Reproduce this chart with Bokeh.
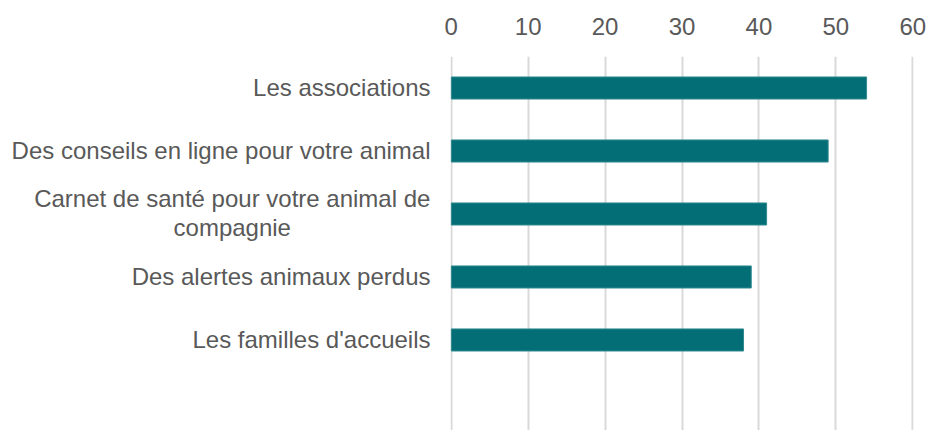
from bokeh.plotting import figure
from bokeh.models import ColumnDataSource, Range1d, FixedTicker
from bokeh.core.properties import value
from bokeh.embed import file_html
from bokeh.resources import INLINE

categories = [
    "Les associations",
    "Des conseils en ligne pour votre animal",
    "Carnet de santé pour votre animal de\ncompagnie",
    "Des alertes animaux perdus",
    "Les familles d'accueils",
]
values = [54, 49, 41, 39, 38]
x_ticks = [0, 10, 20, 30, 40, 50, 60]

FONT = "Liberation Sans"
GREY = "#595959"
TEAL = "#036E75"
FS = "24px"

pos = list(range(len(categories)))
src = ColumnDataSource(dict(y=pos, v=values))

p = figure(width=930, height=430, output_backend="svg", toolbar_location=None,
           x_range=Range1d(-0.1, 60.1), y_range=Range1d(5.437, -0.5),
           x_axis_location="above", min_border_left=450, min_border_right=17,
           min_border_top=56, min_border_bottom=0)

p.hbar(y="y", left=0, right="v", height=0.35, source=src,
       fill_color=TEAL, line_color="#2F8A90", line_width=1)

# single-line category labels on the y axis; the wrapped one centred as a text glyph
single = {i: c for i, c in enumerate(categories) if "\n" not in c}
multi = [i for i, c in enumerate(categories) if "\n" in c]
p.yaxis.ticker = FixedTicker(ticks=pos)
p.yaxis.major_label_overrides = {i: single.get(i, "") for i in pos}
p.yaxis.axis_line_color = None
p.yaxis.major_tick_line_color = None
p.yaxis.minor_tick_line_color = None
p.yaxis.major_label_standoff = 14
p.yaxis.major_label_text_font = FONT
p.yaxis.major_label_text_font_size = FS
p.yaxis.major_label_text_color = GREY

src_multi = ColumnDataSource(dict(y=[pos[i] for i in multi], x=[0] * len(multi),
                                  label=[categories[i] for i in multi]))
p.text(x="x", y="y", text="label", source=src_multi, x_offset=-219, y_offset=-1,
       text_align="center", text_baseline="middle", text_font=value(FONT),
       text_font_size=FS, text_color=GREY, text_line_height=1.05, level="overlay")

p.ygrid.visible = False
p.xgrid.grid_line_color = "#D9D9D9"
p.xgrid.grid_line_width = 2
p.xaxis.ticker = FixedTicker(ticks=x_ticks)
p.xaxis.axis_line_color = None
p.xaxis.major_tick_line_color = None
p.xaxis.minor_tick_line_color = None
p.xaxis.major_label_text_font = FONT
p.xaxis.major_label_text_font_size = FS
p.xaxis.major_label_text_color = GREY
p.xaxis.major_label_standoff = 16
p.outline_line_color = None
p.background_fill_color = "white"
p.border_fill_color = "white"

open("out.html", "w").write(file_html(p, INLINE))
